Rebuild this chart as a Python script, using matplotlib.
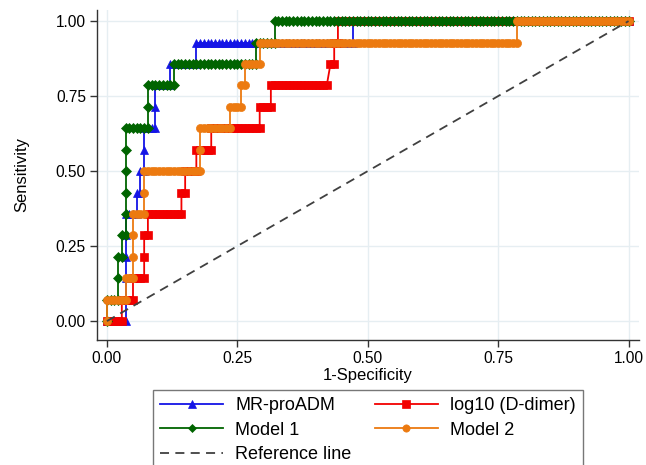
import matplotlib
matplotlib.use("Agg")
import matplotlib.pyplot as plt
from matplotlib.lines import Line2D

plt.rcParams['font.family'] = ['Liberation Sans', 'DejaVu Sans']

# ---- data: ROC step sequences ----
# Each step: ("N", k) = k further negatives (FPR steps), ("P", k) = k further positives,
# ("T", k) = k tied neg/pos steps (diagonal segment)
N_NEG = 140
N_POS = 14

labels = ["MR-proADM", "log10 (D-dimer)", "Model 1", "Model 2"]

mrproadm_steps = [("N", 5), ("P", 5), ("N", 3), ("P", 1), ("N", 1), ("P", 1), ("N", 1),
                  ("P", 2), ("N", 3), ("P", 2), ("N", 4), ("P", 1), ("N", 7), ("P", 1),
                  ("N", 42), ("P", 1), ("N", 74)]

ddimer_steps = [("N", 4), ("P", 1), ("N", 3), ("P", 1), ("N", 3), ("P", 2), ("N", 1),
                ("P", 1), ("N", 9), ("P", 1), ("N", 1), ("P", 1), ("N", 3), ("P", 1),
                ("N", 4), ("P", 1), ("N", 13), ("P", 1), ("N", 3), ("P", 1), ("N", 15),
                ("T", 1), ("N", 1), ("P", 1), ("N", 1), ("P", 1), ("N", 78)]

model1_steps = [("P", 1), ("N", 3), ("P", 2), ("N", 1), ("P", 1), ("N", 1), ("P", 5),
                ("N", 6), ("P", 2), ("N", 7), ("P", 1), ("N", 22), ("P", 1), ("N", 5),
                ("P", 1), ("N", 95)]

model2_steps = [("P", 1), ("N", 5), ("P", 1), ("N", 2), ("P", 3), ("N", 3), ("P", 2),
                ("N", 15), ("P", 2), ("N", 8), ("P", 1), ("N", 3), ("P", 1), ("N", 1),
                ("P", 1), ("N", 4), ("P", 1), ("N", 69), ("P", 1), ("N", 30)]

ref_x = [0, 1]
ref_y = [0, 1]

xticks = [0, 0.25, 0.5, 0.75, 1.0]
yticks = [0, 0.25, 0.5, 0.75, 1.0]


def roc_points(steps):
    fp, tp = 0, 0
    xs, ys = [0.0], [0.0]
    for kind, k in steps:
        for _ in range(k):
            if kind == "N":
                fp += 1
            elif kind == "P":
                tp += 1
            else:
                fp += 1
                tp += 1
            xs.append(fp / N_NEG)
            ys.append(tp / N_POS)
    return xs, ys


styles = [
    dict(color="#1414e6", marker="^", ms=5.8),
    dict(color="#f20000", marker="s", ms=5.8),
    dict(color="#006400", marker="D", ms=5.0),
    dict(color="#ec7a10", marker="o", ms=5.8),
]

fig = plt.figure(figsize=(6.46, 4.65), dpi=100)
ax = fig.add_axes([97 / 646, 1 - 340 / 465, 542 / 646, 330 / 465])

all_steps = [mrproadm_steps, ddimer_steps, model1_steps, model2_steps]
for steps, st, lab in zip(all_steps, styles, labels):
    xs, ys = roc_points(steps)
    ax.plot(xs, ys, color=st["color"], lw=1.3, marker=st["marker"], ms=st["ms"],
            mec=st["color"], mfc=st["color"], mew=0.5, label=lab, zorder=3)

ax.plot(ref_x, ref_y, color="#404040", lw=1.3, ls=(0, (5, 3.5)), zorder=4,
        label="Reference line")

ax.set_xlim(-0.019, 1.02)
ax.set_ylim(-0.063, 1.037)
ax.set_xticks(xticks)
ax.set_yticks(yticks)
ax.set_xticklabels([f"{t:.2f}" for t in xticks], fontsize=11.2)
ax.set_yticklabels([f"{t:.2f}" for t in yticks], fontsize=11.2)
ax.grid(True, color="#e6eef2", lw=1.0, zorder=0)
ax.set_axisbelow(True)
for s in ["top", "right"]:
    ax.spines[s].set_visible(False)
for s in ["left", "bottom"]:
    ax.spines[s].set_color("#333333")
    ax.spines[s].set_linewidth(1.0)
ax.tick_params(direction="out", length=5, width=1.0, color="#333333", pad=3)
ax.set_xlabel("1-Specificity", fontsize=12, labelpad=1)
ax.set_ylabel("Sensitivity", fontsize=12, labelpad=19)

handles, labs = ax.get_legend_handles_labels()
order = [0, 2, 4, 1, 3]
leg = fig.legend([handles[i] for i in order], [labs[i] for i in order],
                 loc="upper left", bbox_to_anchor=(153 / 646, 1 - 390 / 465),
                 borderaxespad=0.0,
                 ncol=2, fontsize=13, frameon=True, fancybox=False,
                 edgecolor="#555555", handlelength=3.5, handletextpad=0.65,
                 columnspacing=1.3, labelspacing=0.42, borderpad=0.4,
                 markerscale=0.9)
leg.get_frame().set_linewidth(1.0)
# show a single marker in the middle of each legend handle
for h in leg.legend_handles:
    if isinstance(h, Line2D) and h.get_marker() not in (None, "None", ""):
        h.set_markevery([1])

fig.savefig("out.png", dpi=100)
